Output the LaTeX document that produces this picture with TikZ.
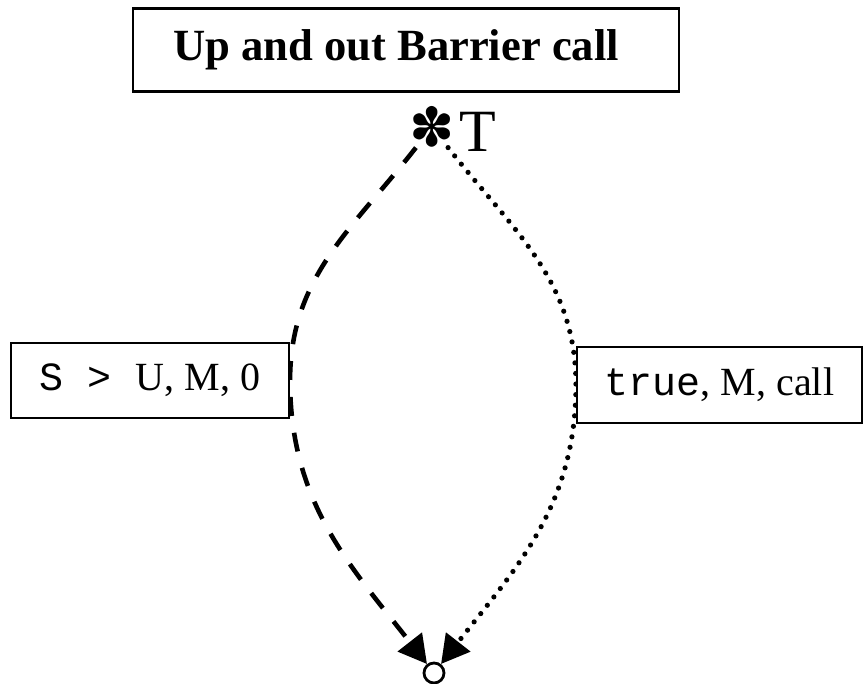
\documentclass[tikz,border=0pt]{standalone}
\usepackage{fontspec}
\setmainfont{Liberation Serif}
\setmonofont{Liberation Mono}
\newfontfamily\symfont{DejaVu Sans}
\usetikzlibrary{arrows.meta}
\pgfdeclarelayer{background}
\pgfsetlayers{background,main}
\begin{document}
\begin{tikzpicture}[x=1pt,y=1pt,
  box/.style={draw, line width=2.1pt, fill=white, inner sep=0pt},
  tip/.style={-{Triangle[length=28pt,width=30pt]}},
  dashedline/.style={line width=4.6pt, dash pattern=on 19pt off 17pt, tip},
  dottedline/.style={line width=5.2pt, line cap=round, dash pattern=on 0pt off 10.6pt, tip}]
\useasboundingbox (0,0) rectangle (864,684);
\node[box, minimum width=546pt, minimum height=83pt] (title) at (406,634)
  {\fontsize{44.6}{50}\selectfont\bfseries\hspace*{-20pt}Up and out Barrier call};
\node[inner sep=0pt] (star) at (432,557) {\symfont\fontsize{54}{54}\selectfont ✽};
\node[inner sep=0pt, anchor=base] (tlabel) at (478,532) {\fontsize{60}{60}\selectfont T};
\node[circle, draw, line width=2.8pt, fill=white, minimum size=20pt, inner sep=0pt] (circ) at (434,11) {};
\node[box, minimum width=278pt, minimum height=75pt] (lbox) at (150,303.5)
  {\fontsize{40}{44}\selectfont\texttt{S > }U, M, 0};
\node[box, minimum width=285pt, minimum height=76pt] (rbox) at (719.5,299)
  {\fontsize{40}{44}\selectfont\texttt{true}, M, call};
\begin{pgfonlayer}{background}
\draw[dashedline] (star) to[out=232,in=90] (lbox.east) to[out=-90,in=128] (circ);
\draw[dottedline] (star) to[out=-52,in=90] (rbox.west) to[out=-90,in=52] (circ);
\end{pgfonlayer}
\end{tikzpicture}
\end{document}
